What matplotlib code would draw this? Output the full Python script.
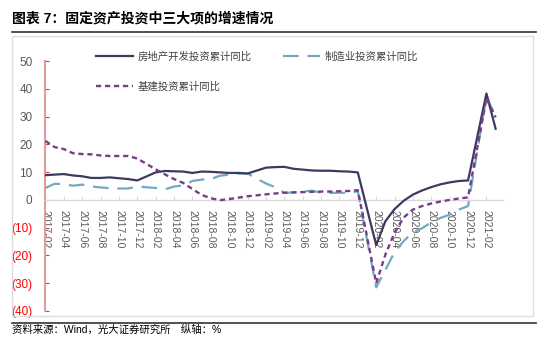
import matplotlib.pyplot as plt
from matplotlib.lines import Line2D
from matplotlib.patches import Rectangle

plt.rcParams['font.family'] = ['Liberation Sans', 'Noto Sans CJK SC', 'DejaVu Sans']

# monthly cumulative yoy (%), Jan merged into Feb
months = (["2017-%02d" % m for m in range(2, 13)] +
          ["2018-%02d" % m for m in range(2, 13)] +
          ["2019-%02d" % m for m in range(2, 13)] +
          ["2020-%02d" % m for m in range(2, 13)] +
          ["2021-02", "2021-03"])

real_estate = [8.9, 9.1, 9.3, 8.8, 8.5, 7.9, 7.9, 8.1, 7.8, 7.5, 7.0,
               9.9, 10.4, 10.3, 10.2, 9.7, 10.2, 10.1, 9.9, 9.7, 9.7, 9.5,
               11.6, 11.8, 11.9, 11.2, 10.9, 10.6, 10.5, 10.5, 10.3, 10.2, 9.9,
               -16.3, -7.7, -3.3, -0.3, 1.9, 3.4, 4.6, 5.6, 6.3, 6.8, 7.0,
               38.3, 25.6]
manufacturing = [4.3, 5.8, 5.7, 5.1, 5.5, 4.8, 4.5, 4.2, 4.1, 4.1, 4.8,
                 4.3, 3.8, 4.8, 5.2, 6.8, 7.3, 7.5, 8.7, 9.1, 9.5, 9.5,
                 5.9, 4.6, 2.5, 2.7, 3.0, 3.3, 2.6, 2.5, 2.6, 2.5, 3.1,
                 -31.5, -25.2, -18.8, -14.8, -11.7, -10.2, -8.1, -6.5, -5.3, -3.5, -2.2,
                 37.3, 29.8]
infrastructure = [21.2, 19.0, 18.3, 16.8, 16.5, 16.4, 16.0, 15.8, 15.8, 15.8, 14.9,
                  11.0, 9.2, 7.5, 6.1, 3.9, 1.8, 0.6, -0.1, 0.3, 0.8, 1.3,
                  2.0, 2.3, 2.6, 2.7, 2.8, 2.9, 3.0, 3.0, 3.1, 3.2, 3.5,
                  -30.0, -19.7, -11.8, -6.3, -3.5, -2.2, -1.3, -0.6, 0.0, 0.5, 0.9,
                  36.6, 29.7]

names = ["房地产开发投资累计同比", "制造业投资累计同比", "基建投资累计同比"]
tick_labels = ["%d-%02d" % (y, m) for y in range(2017, 2022) for m in (2, 4, 6, 8, 10, 12)][:25]


def month_index(s):
    y, m = s.split("-")
    return (int(y) - 2017) * 12 + int(m) - 2


x = [month_index(s) for s in months]
xt = [month_index(s) for s in tick_labels]

fig = plt.figure(figsize=(5.5, 3.38), dpi=100)
ax = fig.add_axes([0.0818, 0.0799, 0.8327, 0.7396])

c_re = "#3C3A60"
c_mf = "#72A9C2"
c_in = "#7A3C86"
ax.plot(x, real_estate, color=c_re, lw=1.6, label=names[0], zorder=3)
ax.plot(x, manufacturing, color=c_mf, lw=1.6, dashes=(7, 4), label=names[1], zorder=2)
ax.plot(x, infrastructure, color=c_in, lw=1.7, dashes=(2.2, 1.6), label=names[2], zorder=4)

ax.set_xlim(-0.05, 49.8)
ax.set_ylim(-40, 50)

for s in ("top", "right"):
    ax.spines[s].set_visible(False)
ax.spines["left"].set_color("#E29A9A")
ax.spines["left"].set_linewidth(1.5)
ax.spines["bottom"].set_position(("data", 0))
ax.spines["bottom"].set_color("#D9D9D9")
ax.spines["bottom"].set_linewidth(1.0)

yt = list(range(-40, 51, 10))
ax.set_yticks(yt)
ax.set_yticklabels([str(v) if v >= 0 else "(%d)" % -v for v in yt], fontsize=8.5)
for v, lab in zip(yt, ax.get_yticklabels()):
    lab.set_color("#FF0000" if v < 0 else "#595959")
ax.tick_params(axis="y", direction="in", length=3, color="#D04040", pad=9)

ax.set_xticks(xt)
ax.set_xticklabels(tick_labels, rotation=270, fontsize=7.5, color="#595959")
ax.tick_params(axis="x", direction="in", length=3, color="#D9D9D9", pad=7)

h = [Line2D([], [], color=c_re, lw=1.6),
     Line2D([], [], color=c_in, lw=1.7, dashes=(2.2, 1.6)),
     Line2D([], [], color=c_mf, lw=1.6, dashes=(7, 4))]
leg = ax.legend(h, [names[0], names[2], names[1]], ncol=2, frameon=False,
                fontsize=7.5, loc="upper left", bbox_to_anchor=(0.09, 1.075),
                handlelength=3.6, handletextpad=0.4, labelspacing=1.9,
                columnspacing=3.0)
for t in leg.get_texts():
    t.set_color("#404040")

# title, rules, frame and source line
fig.text(12 / 550, 1 - 18 / 338, "图表 7：固定资产投资中三大项的增速情况",
         fontsize=10, fontweight="bold", va="center", ha="left")
fig.add_artist(Line2D([12 / 550, 536 / 550], [1 - 32 / 338] * 2, color="#333333", lw=1.2))
fig.add_artist(Rectangle((12 / 550, 1 - 316 / 338), 521 / 550, 280 / 338,
                         fill=False, edgecolor="#DDDDDD", lw=1.0))
fig.add_artist(Line2D([12 / 550, 536 / 550], [1 - 322.5 / 338] * 2, color="#333333", lw=1.2))
fig.text(12 / 550, 1 - 330 / 338, "资料来源：Wind，光大证券研究所　纵轴：%",
         fontsize=7.5, va="center", ha="left")

fig.savefig("out.png", dpi=100)
